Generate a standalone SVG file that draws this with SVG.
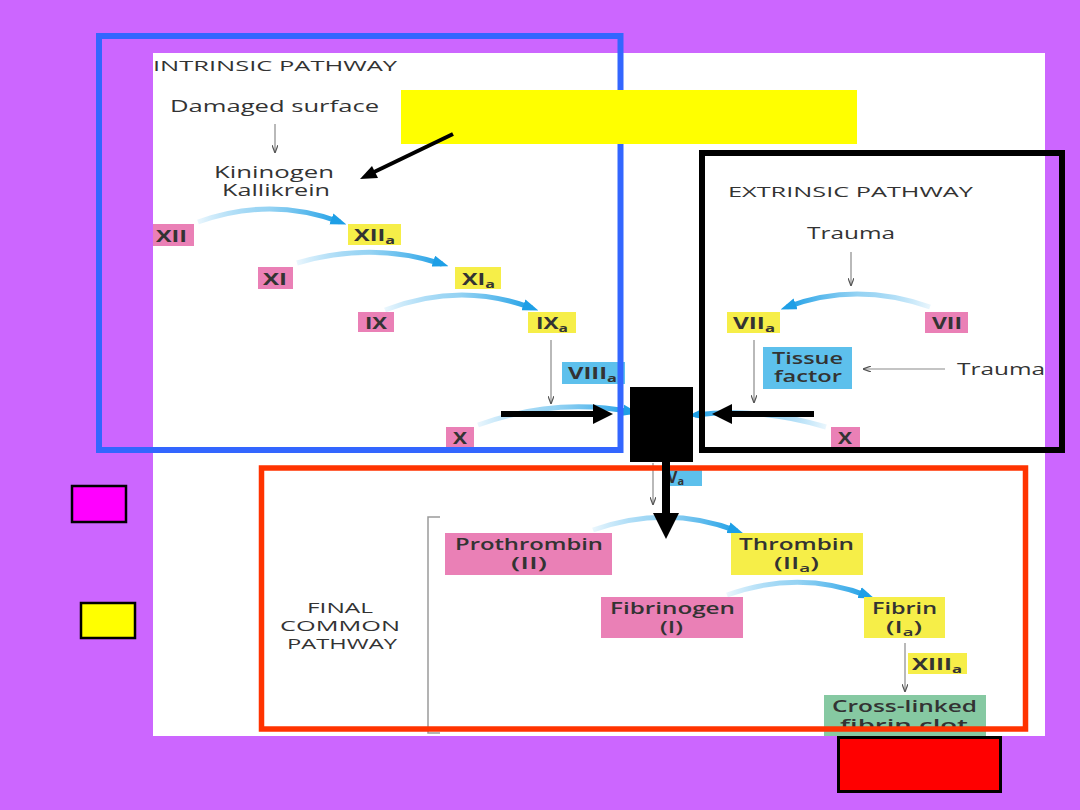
<svg xmlns="http://www.w3.org/2000/svg" width="1080" height="810" viewBox="0 0 1080 810">
<style>
.t{font-family:"Open Sans","DejaVu Sans",sans-serif;fill:#333}
.h{font-size:15px;font-weight:500}
.n{font-size:17px;font-weight:500}
.b{font-size:16px;font-weight:700}
.m{font-size:16px;font-weight:600}
.pink{fill:#EA80B6}
.yel{fill:#F6EE48}
.blu{fill:#5DC0EC}
.grn{fill:#86C9A2}
.curve{fill:none;stroke-width:5;marker-end:url(#bh)}
.thin{stroke:#8a8a8a;stroke-width:1.2;fill:none;marker-end:url(#gh)}
</style>
<defs>
<clipPath id="img"><rect x="153" y="53" width="892" height="683"/></clipPath>
<linearGradient id="gR" x1="0" y1="0" x2="1" y2="0"><stop offset="0" stop-color="#2AA6EA" stop-opacity="0.1"/><stop offset="0.5" stop-color="#7CC8F0" stop-opacity="0.8"/><stop offset="1" stop-color="#1E9FE6"/></linearGradient>
<linearGradient id="gL" x1="1" y1="0" x2="0" y2="0"><stop offset="0" stop-color="#2AA6EA" stop-opacity="0.1"/><stop offset="0.5" stop-color="#7CC8F0" stop-opacity="0.8"/><stop offset="1" stop-color="#1E9FE6"/></linearGradient>
<marker id="bh" viewBox="0 0 14 10" refX="8" refY="5" markerWidth="16" markerHeight="12" markerUnits="userSpaceOnUse" orient="auto"><path d="M0,0 L14,5 L0,10 z" fill="#1E9FE6"/></marker>
<marker id="gh" viewBox="0 0 8 6" refX="8" refY="3" markerWidth="8" markerHeight="6" markerUnits="userSpaceOnUse" orient="auto"><path d="M0,0 L8,3 L0,6" fill="none" stroke="#555" stroke-width="1.2"/></marker>
</defs>
<rect width="1080" height="810" fill="#CC66FF"/>
<g id="image" clip-path="url(#img)">
<rect x="153" y="53" width="892" height="683" fill="#fff"/>
<g id="connectors">
<path class="curve" stroke="url(#gR)" d="M198 222 Q270 196 340 222"/>
<path class="curve" stroke="url(#gR)" d="M297 263 Q372 241 442 264"/>
<path class="curve" stroke="url(#gR)" d="M385 310 Q460 281 532 308"/>
<path class="curve" stroke="url(#gR)" d="M478 425 Q555 397 632 412"/>
<path class="curve" stroke="url(#gL)" d="M826 427 Q760 407 695 415"/>
<path class="curve" stroke="url(#gL)" d="M930 307 Q856 281 787 307"/>
<path class="curve" stroke="url(#gR)" d="M593 530 Q667 504 737 531"/>
<path class="curve" stroke="url(#gR)" d="M727 595 Q800 569 868 596"/>
<line class="thin" x1="275" y1="124" x2="275" y2="153"/>
<line class="thin" x1="551" y1="340" x2="551" y2="404"/>
<line class="thin" x1="851" y1="252" x2="851" y2="286"/>
<line class="thin" x1="754" y1="340" x2="754" y2="403"/>
<line class="thin" x1="945" y1="369" x2="863" y2="369"/>
<line class="thin" x1="653" y1="463" x2="653" y2="505"/>
<line class="thin" x1="905" y1="643" x2="905" y2="692"/>
<path d="M440 517 L428 517 L428 733 L440 733" fill="none" stroke="#9a9a9a" stroke-width="1.5"/>
</g>
<text class="t h" x="153" y="71" textLength="244" lengthAdjust="spacingAndGlyphs">INTRINSIC PATHWAY</text>
<text class="t n" x="170" y="112" textLength="209" lengthAdjust="spacingAndGlyphs">Damaged surface</text>
<text class="t n" x="214" y="178" textLength="120" lengthAdjust="spacingAndGlyphs">Kininogen</text>
<text class="t n" x="222" y="196" textLength="108" lengthAdjust="spacingAndGlyphs">Kallikrein</text>
<g id="n-XII"><rect class="pink" x="153" y="224" width="41" height="22"/><text class="t b" x="156" y="242" textLength="31" lengthAdjust="spacingAndGlyphs">XII</text></g>
<g id="n-XIIa"><rect class="yel" x="348" y="224" width="53" height="21"/><text class="t b" x="354" y="241" textLength="41" lengthAdjust="spacingAndGlyphs">XII<tspan font-size="11" dy="3">a</tspan></text></g>
<g id="n-XI"><rect class="pink" x="258" y="267" width="35" height="22"/><text class="t b" x="263" y="285" textLength="24" lengthAdjust="spacingAndGlyphs">XI</text></g>
<g id="n-XIa"><rect class="yel" x="455" y="267" width="46" height="22"/><text class="t b" x="462" y="285" textLength="33" lengthAdjust="spacingAndGlyphs">XI<tspan font-size="11" dy="3">a</tspan></text></g>
<g id="n-IX"><rect class="pink" x="358" y="312" width="36" height="20"/><text class="t b" x="365" y="329" textLength="22" lengthAdjust="spacingAndGlyphs">IX</text></g>
<g id="n-IXa"><rect class="yel" x="528" y="312" width="48" height="21"/><text class="t b" x="536" y="329" textLength="32" lengthAdjust="spacingAndGlyphs">IX<tspan font-size="11" dy="3">a</tspan></text></g>
<g id="n-VIIIa"><rect class="blu" x="562" y="362" width="63" height="22"/><text class="t b" x="568" y="379" textLength="49" lengthAdjust="spacingAndGlyphs">VIII<tspan font-size="11" dy="3">a</tspan></text></g>
<g id="n-X1"><rect class="pink" x="446" y="427" width="28" height="21"/><text class="t b" x="453" y="444" textLength="14" lengthAdjust="spacingAndGlyphs">X</text></g>
<text class="t h" x="728" y="197" textLength="245" lengthAdjust="spacingAndGlyphs">EXTRINSIC PATHWAY</text>
<text class="t n" x="807" y="239" textLength="88" lengthAdjust="spacingAndGlyphs">Trauma</text>
<g id="n-VIIa"><rect class="yel" x="727" y="312" width="53" height="21"/><text class="t b" x="733" y="329" textLength="42" lengthAdjust="spacingAndGlyphs">VII<tspan font-size="11" dy="3">a</tspan></text></g>
<g id="n-VII"><rect class="pink" x="925" y="312" width="43" height="21"/><text class="t b" x="932" y="329" textLength="30" lengthAdjust="spacingAndGlyphs">VII</text></g>
<g id="n-TF"><rect class="blu" x="763" y="347" width="89" height="42"/><text class="t m" x="772" y="364" textLength="71" lengthAdjust="spacingAndGlyphs">Tissue</text><text class="t m" x="774" y="382" textLength="68" lengthAdjust="spacingAndGlyphs">factor</text></g>
<text class="t n" x="957" y="375" textLength="88" lengthAdjust="spacingAndGlyphs">Trauma</text>
<g id="n-X2"><rect class="pink" x="831" y="427" width="29" height="21"/><text class="t b" x="838" y="444" textLength="14" lengthAdjust="spacingAndGlyphs">X</text></g>
<g id="n-Va"><rect class="blu" x="662" y="470" width="40" height="16"/><text class="t b" x="667" y="483">V<tspan font-size="11" dy="2">a</tspan></text></g>
<text class="t h" x="307" y="613" textLength="66" lengthAdjust="spacingAndGlyphs">FINAL</text>
<text class="t h" x="280" y="631" textLength="120" lengthAdjust="spacingAndGlyphs">COMMON</text>
<text class="t h" x="287" y="649" textLength="110" lengthAdjust="spacingAndGlyphs">PATHWAY</text>
<g id="n-pro"><rect class="pink" x="445" y="533" width="167" height="42"/><text class="t m" x="455" y="550" textLength="148" lengthAdjust="spacingAndGlyphs">Prothrombin</text><text class="t m" x="511" y="569" textLength="36" lengthAdjust="spacingAndGlyphs">(II)</text></g>
<g id="n-thr"><rect class="yel" x="731" y="533" width="132" height="42"/><text class="t m" x="739" y="550" textLength="115" lengthAdjust="spacingAndGlyphs">Thrombin</text><text class="t m" x="774" y="569" textLength="45" lengthAdjust="spacingAndGlyphs">(II<tspan font-size="11" dy="3">a</tspan><tspan dy="-3">)</tspan></text></g>
<g id="n-fbg"><rect class="pink" x="601" y="597" width="142" height="41"/><text class="t m" x="610" y="614" textLength="125" lengthAdjust="spacingAndGlyphs">Fibrinogen</text><text class="t m" x="660" y="633" textLength="23" lengthAdjust="spacingAndGlyphs">(I)</text></g>
<g id="n-fib"><rect class="yel" x="864" y="597" width="81" height="41"/><text class="t m" x="872" y="614" textLength="65" lengthAdjust="spacingAndGlyphs">Fibrin</text><text class="t m" x="886" y="633" textLength="36" lengthAdjust="spacingAndGlyphs">(I<tspan font-size="11" dy="3">a</tspan><tspan dy="-3">)</tspan></text></g>
<g id="n-XIIIa"><rect class="yel" x="908" y="653" width="59" height="21"/><text class="t b" x="912" y="670" textLength="50" lengthAdjust="spacingAndGlyphs">XIII<tspan font-size="11" dy="3">a</tspan></text></g>
<g id="n-clot"><rect class="grn" x="824" y="695" width="162" height="45"/><text class="t m" x="832" y="712" textLength="145" lengthAdjust="spacingAndGlyphs">Cross-linked</text><text class="t m" x="840" y="731" textLength="128" lengthAdjust="spacingAndGlyphs">fibrin clot</text></g>
</g>
<g id="overlays">
<rect id="blue-box" x="99" y="36" width="521.5" height="414" fill="none" stroke="#3366FF" stroke-width="6"/>
<rect id="yellow-box" x="401" y="90" width="456" height="54" fill="#FFFF00"/>
<rect id="black-box" x="702" y="153" width="360" height="297" fill="none" stroke="#000" stroke-width="6"/>
<rect id="black-fill" x="630" y="387" width="63" height="75" fill="#000"/>
<rect id="red-box" x="261.5" y="468" width="764" height="261" fill="none" stroke="#FF3300" stroke-width="5.5"/>
<rect id="magenta-key" x="72" y="486" width="54" height="36" fill="#FF00FF" stroke="#000" stroke-width="2.5"/>
<rect id="yellow-key" x="81" y="603" width="54" height="35" fill="#FFFF00" stroke="#000" stroke-width="2.5"/>
<rect id="red-key" x="838.5" y="737.5" width="162" height="54" fill="#FF0000" stroke="#000" stroke-width="3"/>
</g>
<g id="black-arrows" fill="#000" stroke="#000">
<line x1="453" y1="134" x2="372" y2="173" stroke-width="4"/>
<polygon points="360,179 372,166 378,178" stroke="none"/>
<line x1="501" y1="414" x2="595" y2="414" stroke-width="6"/>
<polygon points="613,414 593,404 593,424" stroke="none"/>
<line x1="814" y1="414" x2="730" y2="414" stroke-width="6"/>
<polygon points="712,414 732,404 732,424" stroke="none"/>
<line x1="666" y1="462" x2="666" y2="515" stroke-width="8"/>
<polygon points="666,539 653,513 679,513" stroke="none"/>
</g>
</svg>
